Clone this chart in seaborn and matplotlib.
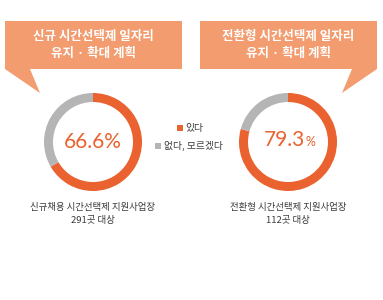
import matplotlib
matplotlib.use("Agg")
import matplotlib.pyplot as plt
import seaborn as sns
from matplotlib.patches import Polygon, Rectangle

# data
titles = ["신규 시간선택제 일자리\n유지 · 확대 계획", "전환형 시간선택제 일자리\n유지 · 확대 계획"]
yes_share = [66.6, 79.3]
pct_labels = ["66.6%", "79.3"]
captions = ["신규채용 시간선택제 지원사업장\n291곳 대상", "전환형 시간선택제 지원사업장\n112곳 대상"]
legend_labels = ["있다", "없다, 모르겠다"]

sns.set_theme(style="white")
plt.rcParams['font.family'] = ['Noto Sans CJK KR', 'DejaVu Sans']

orange = "#E9622F"
gray = "#B5B5B5"
box_color = "#F29C6F"
text_color = "#3A3A3A"

W, H = 383, 300
fig = plt.figure(figsize=(W / 100, H / 100), dpi=100)
ax = fig.add_axes([0, 0, 1, 1])

def py(y):
    # pixel row -> data y
    return H - y

centers = [(93, 142), (288, 142)]
box_x = [(5, 182), (200, 377)]
tails = [[(5, 69), (30, 69), (40, 93)], [(377, 69), (352, 69), (342, 93)]]

for i in range(2):
    cx, cy = centers[i]
    ax.pie([yes_share[i], 100 - yes_share[i]], colors=[orange, gray],
           startangle=90, counterclock=False, radius=49, center=(cx, py(cy)),
           wedgeprops=dict(width=9, linewidth=0), frame=True)

    x0, x1 = box_x[i]
    ax.add_patch(Rectangle((x0, py(69)), x1 - x0, 48, color=box_color, lw=0))
    ax.add_patch(Polygon([(x, py(y)) for x, y in tails[i]], color=box_color, lw=0))
    ax.text((x0 + x1) / 2, py(45), titles[i], ha="center", va="center",
            color="white", fontsize=9, fontweight="bold", linespacing=1.45)

    ax.text(cx, py(214), captions[i], ha="center", va="center",
            color=text_color, fontsize=6.8, linespacing=1.6)

pct_font = dict(color=orange, family=["Lato", "DejaVu Sans"], zorder=5)
ax.text(93, py(142.5), pct_labels[0], ha="center", va="center", fontsize=15, **pct_font)
ax.text(305, py(140.5), pct_labels[1], ha="right", va="center", fontsize=15, **pct_font)
ax.text(306, py(142.5), "%", ha="left", va="center", fontsize=9, **pct_font)

# legend
ax.add_patch(Rectangle((177, py(131)), 6, 6, color=orange, lw=0))
ax.text(185, py(128), legend_labels[0], ha="left", va="center", color=text_color, fontsize=7)
ax.add_patch(Rectangle((155, py(149)), 6, 6, color=gray, lw=0))
ax.text(164, py(146), legend_labels[1], ha="left", va="center", color=text_color, fontsize=7)

ax.set_xlim(0, W)
ax.set_ylim(0, H)
ax.set_aspect("equal")
ax.axis("off")

fig.savefig("out.png", dpi=100, facecolor="white")
